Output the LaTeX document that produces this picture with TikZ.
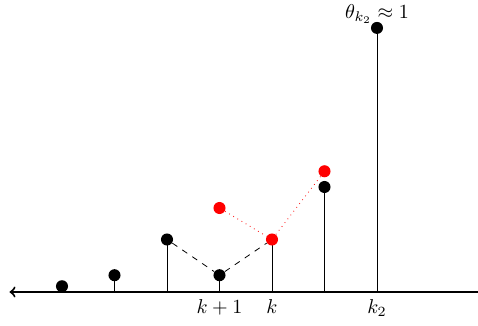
\documentclass[tikz,border=0pt]{standalone}
\usepackage{amsmath}
\usepackage{tikz}
\usetikzlibrary{positioning, calc}

\begin{document}
\begin{tikzpicture}[x=0.919cm,y=0.919cm,
  dot/.style={circle,fill=black,inner sep=0pt,minimum size=6pt},
  reddot/.style={dot,fill=red},
  stem/.style={black,thin},
  axisarr/.style={<-,line width=1pt},
  oldpath/.style={dashed,black},
  newpath/.style={dotted,red}
]
\useasboundingbox (-0.181,-0.629) rectangle (8.924,5.562);

\coordinate (axisleft) at (0,0);
\coordinate (axisright) at (8.924,0);

% stems
\foreach \i/\h in {1/0.11,2/0.32,3/1.0,4/0.32,5/1.0,6/2.0,7/5.03}{
  \coordinate (b\i) at (\i,0);
  \coordinate (p\i) at (\i,\h);
  \draw[stem] (b\i) -- (p\i);
}
\draw[axisarr] (axisleft) -- (axisright);

% dots
\foreach \i in {1,2,3,4,6,7}{
  \node[dot] (d\i) at (p\i) {};
}
\node[reddot] (d5) at (p5) {};
\node[reddot] (r4) at (4,1.6) {};
\node[reddot] (r6) at (6,2.3) {};

\draw[oldpath] (d3) -- (d4) -- (d5);
\draw[newpath] (r4) -- (d5) -- (r6);

\node[below=0pt of b4] (lk1) {$k+1$};
\node[below=0pt of b5] (lk) {$k$};
\node[below=0pt of b7] (lk2) {$k_2$};
\node[above=-2pt of d7,inner sep=1pt] (ltheta) {$\theta_{k_2}\approx 1$};
\end{tikzpicture}
\end{document}
